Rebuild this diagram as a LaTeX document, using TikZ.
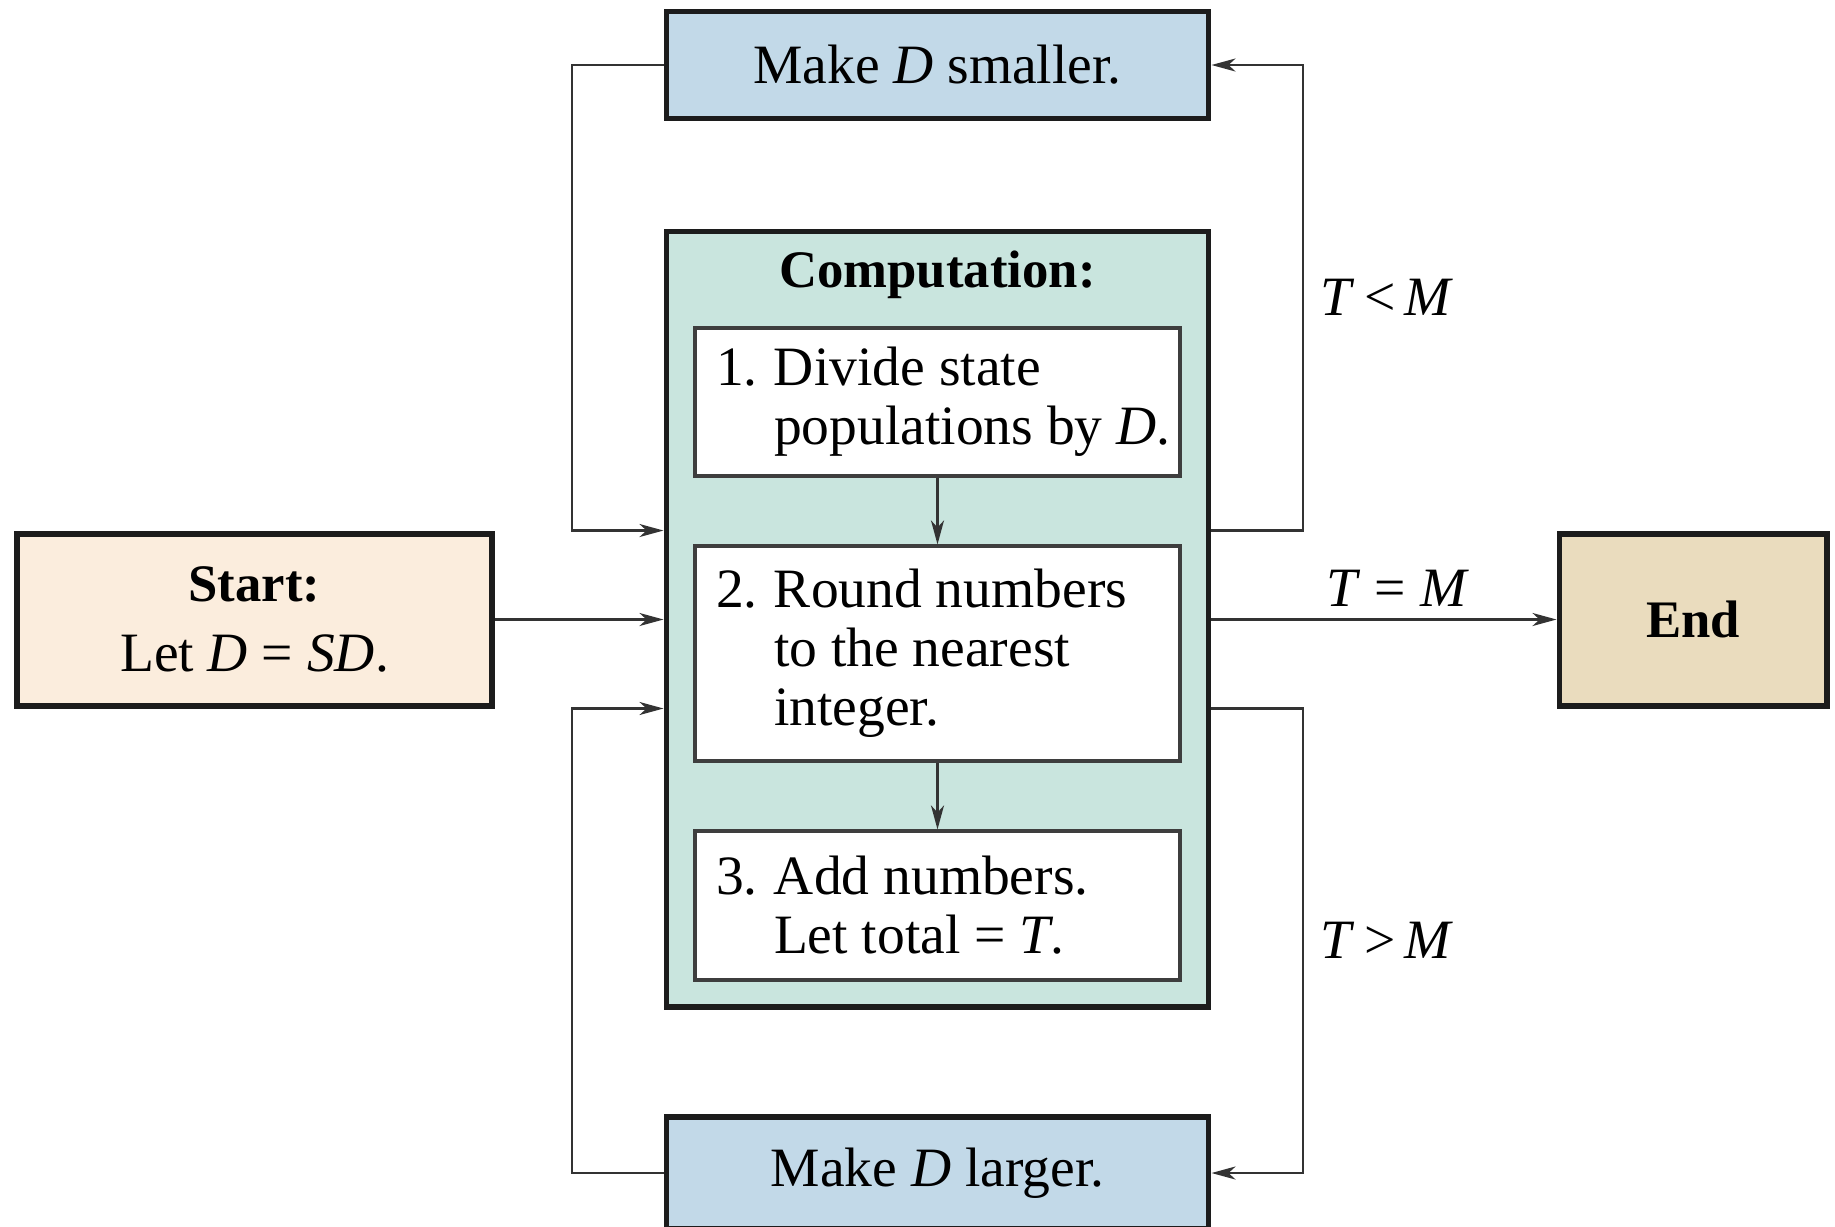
\documentclass[tikz,border=0pt]{standalone}
\usepackage{fontspec}
\setmainfont{Liberation Serif}
\usetikzlibrary{arrows.meta}

\definecolor{startfill}{HTML}{FBEDDD}
\definecolor{makefill}{HTML}{C2D9E8}
\definecolor{compfill}{HTML}{C9E5DE}
\definecolor{endfill}{HTML}{EADCBE}
\definecolor{boxline}{HTML}{1C1C1C}
\definecolor{linkgray}{HTML}{333333}

\newcommand{\stepnum}[1]{\makebox[0.71cm][l]{\hspace*{0.13cm}#1}}
\newcommand{\stepgap}{\hspace*{0.71cm}}
\newcommand{\headfont}{\fontsize{15}{16.6}\selectfont\bfseries}

\begin{document}
\begin{tikzpicture}[
  every node/.style={font=\fontsize{15.8}{16.8}\selectfont},
  bigbox/.style={draw=boxline, line width=1.7pt},
  stepbox/.style={draw=boxline!85, line width=0.9pt, fill=white,
    minimum width=4.85cm, text width=4.69cm, inner xsep=0.08cm, align=flush left},
  link/.style={draw=linkgray, line width=0.7pt,
    -{Stealth[length=0.24cm,width=0.13cm,inset=0.07cm]}},
  cond/.style={right, xshift=0.05cm}]
  \useasboundingbox (0,0) rectangle (18.35,-12.26);
  \node[bigbox, fill=startfill, minimum width=4.75cm, minimum height=1.72cm, align=center] (start) at (2.545,-6.195) {{\headfont Start:}\\[3pt]Let \textit{D} = \textit{SD}.};
  \node[bigbox, fill=makefill, minimum width=5.42cm, minimum height=1.07cm] (smaller) at (9.375,-0.65) {Make \textit{D} smaller.};
  \node[bigbox, fill=compfill, minimum width=5.42cm, minimum height=7.75cm] (comp) at (9.375,-6.19) {};
  \node (comptitle) at (9.375,-2.75) {\headfont Computation:};
  \node[stepbox, minimum height=1.48cm] (s1) at (9.375,-4.02) {\stepnum{1.}Divide state\newline\stepgap\mbox{populations by \textit{D}.}};
  \node[stepbox, minimum height=2.15cm] (s2) at (9.375,-6.535) {\stepnum{2.}Round numbers\newline\stepgap to the nearest\newline\stepgap integer.};
  \node[stepbox, minimum height=1.49cm] (s3) at (9.375,-9.055) {\stepnum{3.}Add numbers.\newline\stepgap Let total = \textit{T}.};
  \node[bigbox, fill=makefill, minimum width=5.42cm, minimum height=1.12cm] (larger) at (9.375,-11.73) {Make \textit{D} larger.};
  \node[bigbox, fill=endfill, minimum width=2.67cm, minimum height=1.72cm] (end) at (16.93,-6.195) {\headfont End};
  \coordinate (rloop) at (13.03,0);
  \coordinate (lloop) at (5.72,0);
  \draw[link] (start.east) -- (start.east -| comp.west);
  \draw[link] (comp.east |- end.west) -- node[above, pos=0.54] {\textit{T} = \textit{M}} (end.west);
  \draw[link] (comp.east |- start.north) -| node[cond, pos=0.75] {\textit{T}\,<\,\textit{M}} (rloop |- smaller.east) -- (smaller.east);
  \draw[link] (comp.east |- start.south) -| node[cond, pos=0.75] {\textit{T}\,>\,\textit{M}} (rloop |- larger.east) -- (larger.east);
  \draw[link] (smaller.west) -| (lloop |- start.north) -- (start.north -| comp.west);
  \draw[link] (larger.west) -| (lloop |- start.south) -- (start.south -| comp.west);
  \draw[link] (s1) -- (s2);
  \draw[link] (s2) -- (s3);
\end{tikzpicture}
\end{document}
